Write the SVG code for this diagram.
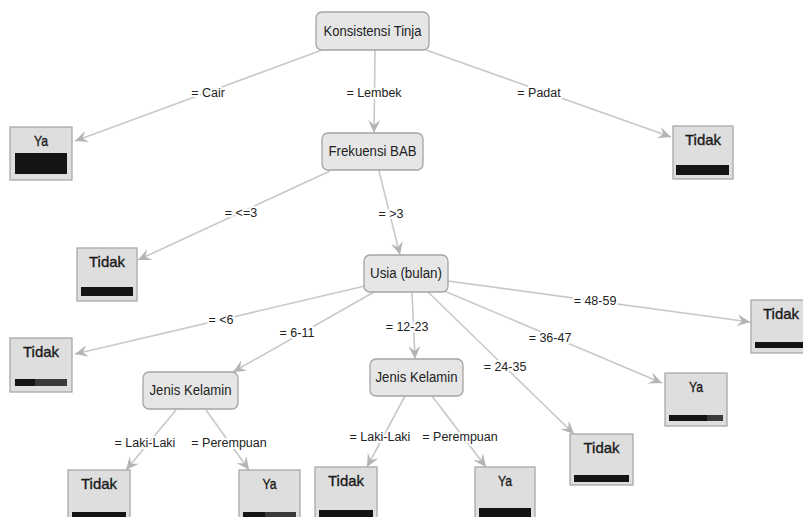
<svg xmlns="http://www.w3.org/2000/svg" width="803" height="517" viewBox="0 0 803 517">
<defs>
<marker id="arr" viewBox="0 0 14 12" refX="13" refY="6" markerWidth="14" markerHeight="12" markerUnits="userSpaceOnUse" orient="auto">
<path d="M0,0 L13,6 L0,12 L5,6 Z" fill="#b4b4b4"/>
</marker>
</defs>
<style>
.e{stroke:#c8c8c8;stroke-width:1.6;fill:none;marker-end:url(#arr)}
.lb{font-family:"Liberation Sans",Arial,sans-serif;font-size:12.5px;fill:#222;text-anchor:middle;paint-order:stroke;stroke:#fff;stroke-width:4px;stroke-linejoin:round}
.in rect{fill:#e6e6e6;stroke:#a4a4a4;stroke-width:1.3}
.in text{font-family:"Liberation Sans",Arial,sans-serif;font-size:14px;fill:#222;text-anchor:middle}
.lf rect.b{fill:#dedede;stroke:#a8a8a8;stroke-width:1.3}
.lf text{font-family:"Liberation Sans",Arial,sans-serif;font-size:15px;fill:#1a1a1a;stroke:#1a1a1a;stroke-width:0.35px;text-anchor:middle}
.bar{fill:#141414}
.bar2{fill:#3a3a3a}
</style>
<rect width="803" height="517" fill="#fff"/>
<g id="connectors">
<line class="e" x1="322" y1="50" x2="75" y2="141"/>
<line class="e" x1="375" y1="50" x2="374" y2="133"/>
<line class="e" x1="426" y1="50" x2="671" y2="137"/>
<line class="e" x1="330" y1="171" x2="138" y2="260"/>
<line class="e" x1="379" y1="171" x2="400" y2="255"/>
<line class="e" x1="365" y1="286" x2="75" y2="354"/>
<line class="e" x1="374" y1="292" x2="233" y2="372"/>
<line class="e" x1="412" y1="292" x2="415" y2="359"/>
<line class="e" x1="428" y1="292" x2="574" y2="434"/>
<line class="e" x1="442" y1="290" x2="662" y2="383"/>
<line class="e" x1="448" y1="281" x2="750" y2="322"/>
<line class="e" x1="176" y1="410" x2="126" y2="470"/>
<line class="e" x1="206" y1="410" x2="249" y2="470"/>
<line class="e" x1="405" y1="396" x2="367" y2="467"/>
<line class="e" x1="432" y1="396" x2="486" y2="467"/>
<text class="lb" x="208" y="97">= Cair</text>
<text class="lb" x="374" y="97">= Lembek</text>
<text class="lb" x="539" y="97">= Padat</text>
<text class="lb" x="241" y="217">= &lt;=3</text>
<text class="lb" x="391" y="218">= &gt;3</text>
<text class="lb" x="221" y="324">= &lt;6</text>
<text class="lb" x="297" y="337">= 6-11</text>
<text class="lb" x="407" y="331">= 12-23</text>
<text class="lb" x="505" y="371">= 24-35</text>
<text class="lb" x="550" y="342">= 36-47</text>
<text class="lb" x="595" y="305">= 48-59</text>
<text class="lb" x="145" y="447">= Laki-Laki</text>
<text class="lb" x="229" y="447">= Perempuan</text>
<text class="lb" x="380" y="441">= Laki-Laki</text>
<text class="lb" x="460" y="441">= Perempuan</text>
</g>
<g id="n-konsistensi" class="in"><rect x="316" y="12" width="113" height="38" rx="6"/><text x="372.5" y="36" textLength="98" lengthAdjust="spacingAndGlyphs">Konsistensi Tinja</text></g>
<g id="n-frekuensi" class="in"><rect x="322" y="133" width="101" height="37" rx="6"/><text x="372.5" y="156" textLength="88" lengthAdjust="spacingAndGlyphs">Frekuensi BAB</text></g>
<g id="n-usia" class="in"><rect x="364" y="255" width="84" height="37" rx="6"/><text x="406" y="278" textLength="72" lengthAdjust="spacingAndGlyphs">Usia (bulan)</text></g>
<g id="n-jk1" class="in"><rect x="143" y="372" width="95" height="37" rx="6"/><text x="190.5" y="395" textLength="82" lengthAdjust="spacingAndGlyphs">Jenis Kelamin</text></g>
<g id="n-jk2" class="in"><rect x="370" y="359" width="93" height="37" rx="6"/><text x="416.5" y="382" textLength="82" lengthAdjust="spacingAndGlyphs">Jenis Kelamin</text></g>
<g id="l-cair" class="lf"><rect class="b" x="10" y="127" width="62" height="53"/><text x="41" y="146" textLength="14" lengthAdjust="spacingAndGlyphs">Ya</text><rect class="bar" x="15" y="153" width="52" height="21"/></g>
<g id="l-padat" class="lf"><rect class="b" x="673" y="126" width="60" height="53"/><text x="703" y="145" textLength="36" lengthAdjust="spacingAndGlyphs">Tidak</text><rect class="bar" x="676" y="165" width="53" height="10"/></g>
<g id="l-le3" class="lf"><rect class="b" x="77" y="248" width="60" height="53"/><text x="107" y="267" textLength="36" lengthAdjust="spacingAndGlyphs">Tidak</text><rect class="bar" x="81" y="287" width="52" height="9"/></g>
<g id="l-lt6" class="lf"><rect class="b" x="10" y="338" width="62" height="54"/><text x="41" y="357" textLength="36" lengthAdjust="spacingAndGlyphs">Tidak</text><rect class="bar2" x="15" y="379" width="52" height="7"/><rect class="bar" x="15" y="379" width="20" height="7"/></g>
<g id="l-4859" class="lf"><rect class="b" x="751" y="300" width="60" height="53"/><text x="781" y="319" textLength="36" lengthAdjust="spacingAndGlyphs">Tidak</text><rect class="bar" x="755" y="342" width="52" height="6"/></g>
<g id="l-3647" class="lf"><rect class="b" x="665" y="373" width="62" height="53"/><text x="696" y="392" textLength="14" lengthAdjust="spacingAndGlyphs">Ya</text><rect class="bar2" x="669" y="415" width="54" height="6"/><rect class="bar" x="669" y="415" width="38" height="6"/></g>
<g id="l-2435" class="lf"><rect class="b" x="570" y="434" width="63" height="51"/><text x="601.5" y="453" textLength="36" lengthAdjust="spacingAndGlyphs">Tidak</text><rect class="bar" x="574" y="475" width="55" height="7"/></g>
<g id="l-jk1-l" class="lf"><rect class="b" x="68" y="470" width="62" height="53"/><text x="99" y="489" textLength="36" lengthAdjust="spacingAndGlyphs">Tidak</text><rect class="bar" x="72" y="512" width="54" height="8"/></g>
<g id="l-jk1-p" class="lf"><rect class="b" x="239" y="470" width="61" height="53"/><text x="269.5" y="489" textLength="14" lengthAdjust="spacingAndGlyphs">Ya</text><rect class="bar2" x="243" y="512" width="53" height="8"/><rect class="bar" x="243" y="512" width="22" height="8"/></g>
<g id="l-jk2-l" class="lf"><rect class="b" x="315" y="467" width="62" height="53"/><text x="346" y="486" textLength="36" lengthAdjust="spacingAndGlyphs">Tidak</text><rect class="bar" x="319" y="510" width="54" height="8"/></g>
<g id="l-jk2-p" class="lf"><rect class="b" x="475" y="467" width="60" height="53"/><text x="505" y="486" textLength="14" lengthAdjust="spacingAndGlyphs">Ya</text><rect class="bar" x="479" y="508" width="52" height="9"/></g>
</svg>
